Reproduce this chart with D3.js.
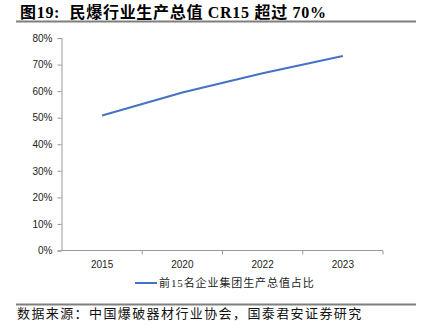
<!DOCTYPE html>
<html><head><meta charset="utf-8">
<script src="https://cdn.jsdelivr.net/npm/d3@7"></script>
<style>body{margin:0;background:#fff;}svg{display:block;}</style>
</head><body>
<script>
const categories = ["2015", "2020", "2022", "2023"];
const values = [0.508, 0.595, 0.667, 0.732];
const yTicks = [0, 0.1, 0.2, 0.3, 0.4, 0.5, 0.6, 0.7, 0.8];
const seriesName = "前15名企业集团生产总值占比";
const title = "图19:  民爆行业生产总值 CR15 超过 70%";
const source = "数据来源：中国爆破器材行业协会，国泰君安证券研究";

const W = 426, H = 328;
const svg = d3.select("body").append("svg").attr("width", W).attr("height", H);

svg.append("text").attr("x", 20).attr("y", 18)
  .attr("font-family", "'Liberation Serif','Noto Sans CJK SC',serif")
  .attr("font-weight", "bold").attr("font-size", 16).attr("letter-spacing", 0.7).attr("fill", "#000")
  .attr("xml:space", "preserve").text(title);
svg.append("line").attr("x1", 16).attr("x2", 416).attr("y1", 21.5).attr("y2", 21.5)
  .attr("stroke", "#7f7f7f").attr("stroke-width", 2);

const x = d3.scaleBand().domain(categories).range([62, 383]);
const y = d3.scaleLinear().domain([0, 0.8]).range([250.5, 38]);

const gx = svg.append("g").attr("transform", "translate(0,250.5)");
gx.append("line").attr("x1", 62).attr("x2", 383).attr("stroke", "#999");
const bounds = categories.map(c => x(c) + x.bandwidth());
gx.selectAll("line.t").data(bounds).join("line").attr("class", "t")
  .attr("x1", d => d).attr("x2", d => d).attr("y1", 0).attr("y2", 4).attr("stroke", "#999");
gx.selectAll("text").data(categories).join("text")
  .attr("x", d => x(d) + x.bandwidth() / 2).attr("y", 17)
  .attr("text-anchor", "middle").attr("font-family", "'Liberation Sans',Arial,sans-serif")
  .attr("font-size", 10).attr("fill", "#222").text(d => d);

const gy = svg.append("g").attr("transform", "translate(61.5,0)");
const yAxis = d3.axisLeft(y).tickValues(yTicks).tickFormat(d3.format(".0%")).tickSize(4).tickPadding(5);
gy.call(yAxis);
gy.select(".domain").attr("stroke", "#999");
gy.selectAll(".tick line").attr("stroke", "#999");
gy.selectAll(".tick text").attr("font-family", "'Liberation Sans',Arial,sans-serif")
  .attr("font-size", 10).attr("fill", "#222");

const line = d3.line().x((d, i) => x(categories[i]) + x.bandwidth() / 2).y(d => y(d));
svg.append("path").datum(values).attr("d", line)
  .attr("fill", "none").attr("stroke", "#4472C4").attr("stroke-width", 2);

const lg = svg.append("g");
lg.append("line").attr("x1", 135).attr("x2", 157).attr("y1", 283).attr("y2", 283)
  .attr("stroke", "#4472C4").attr("stroke-width", 2);
lg.append("text").attr("x", 159).attr("y", 287)
  .attr("font-family", "'Liberation Serif','Noto Sans CJK SC',serif")
  .attr("font-size", 11).attr("letter-spacing", 0.9).attr("fill", "#222").text(seriesName);

svg.append("line").attr("x1", 16).attr("x2", 416).attr("y1", 304.5).attr("y2", 304.5)
  .attr("stroke", "#7f7f7f").attr("stroke-width", 2);
svg.append("text").attr("x", 17).attr("y", 318)
  .attr("font-family", "'Noto Sans CJK SC',sans-serif")
  .attr("font-size", 13).attr("letter-spacing", 1.4).attr("fill", "#111").text(source);
</script>
</body></html>
